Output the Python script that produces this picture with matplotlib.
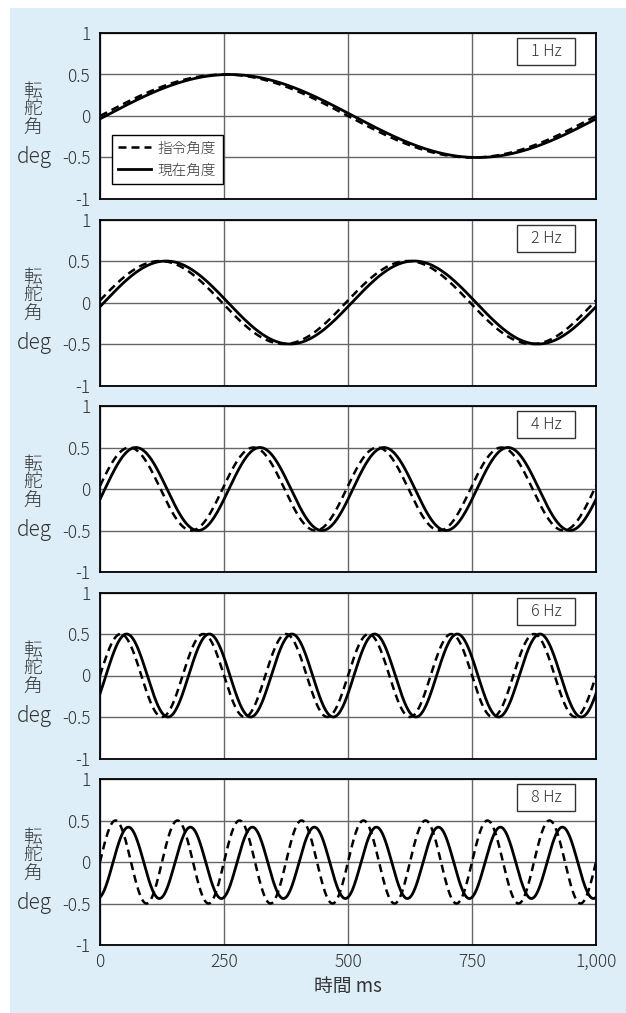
import numpy as np
import matplotlib
matplotlib.use("Agg")
import matplotlib.pyplot as plt
from matplotlib.patches import Rectangle
from matplotlib.transforms import blended_transform_factory

plt.rcParams['font.family'] = ['Noto Sans CJK JP', 'DejaVu Sans']
plt.rcParams['font.weight'] = 'light'

# ---- data ----
freq_hz = [1, 2, 4, 6, 8]
freq_labels = ['1 Hz', '2 Hz', '4 Hz', '6 Hz', '8 Hz']
cmd_amp = [0.5, 0.5, 0.5, 0.5, 0.5]          # 指令角度 amplitude (deg)
cmd_lead_ms = [0, 4, 3, 0, 0]                # command phase advance (ms)
resp_amp = [0.5, 0.5, 0.5, 0.5, 0.43]        # 現在角度 amplitude (deg)
resp_lag_ms = [11, 8, 10, 12, 26]            # response delay (ms)
resp_offset = [0.0, 0.0, 0.0, 0.0, -0.01]    # response offset (deg)
yticks = [-1, -0.5, 0, 0.5, 1]
ytick_labels = ['-1', '-0.5', '0', '0.5', '1']
xticks = [0, 250, 500, 750, 1000]
xtick_labels = ['0', '250', '500', '750', '1,000']
legend_labels = ['指令角度', '現在角度']
ylabel_chars = ['転', '舵', '角']
xlabel = '時間 ms'

W, H = 626, 1013
fig = plt.figure(figsize=(W / 100, H / 100), dpi=100)
fig.patch.set_facecolor('white')
bg = Rectangle((10 / W, 0), (W - 10) / W, (H - 8) / H, transform=fig.transFigure,
               facecolor='#DDEEF8', edgecolor='none', zorder=-10)
fig.patches.append(bg)

left_px, right_px = 100, 596
tops_px = [33, 219.5, 406, 592.5, 779]
height_px = 166

t = np.linspace(0, 1000, 4001)
text_col = '#333333'

for i, f in enumerate(freq_hz):
    top = tops_px[i]
    ax = fig.add_axes([left_px / W, 1 - (top + height_px) / H,
                       (right_px - left_px) / W, height_px / H])
    ax.set_facecolor('white')
    cmd = cmd_amp[i] * np.sin(2 * np.pi * f * (t + cmd_lead_ms[i]) / 1000.0)
    resp = resp_offset[i] + resp_amp[i] * np.sin(2 * np.pi * f * (t - resp_lag_ms[i]) / 1000.0)
    l1, = ax.plot(t, cmd, color='black', lw=1.8, linestyle=(0, (3.2, 2.0)), zorder=3)
    l2, = ax.plot(t, resp, color='black', lw=2.0, zorder=4)
    ax.set_xlim(0, 1000)
    ax.set_ylim(-1, 1)
    ax.set_yticks(yticks)
    ax.set_yticklabels(ytick_labels)
    ax.set_xticks(xticks)
    if i == len(freq_hz) - 1:
        ax.set_xticklabels(xtick_labels)
        ax.set_xlabel(xlabel, fontsize=13.5, color=text_col, labelpad=3)
    else:
        ax.set_xticklabels([])
    ax.tick_params(length=0, labelsize=12.5, labelcolor=text_col, pad=7)
    ax.tick_params(axis='x', pad=6)
    ax.grid(True, color='#666666', lw=1.0, zorder=1)
    for s in ax.spines.values():
        s.set_color('black')
        s.set_linewidth(1.3)
        s.set_zorder(5)
    # frequency box
    bx0, bw = (517 - left_px) / 496, 58 / 496
    by0, bh = (height_px - 32) / height_px, 27 / height_px
    ax.add_patch(Rectangle((bx0, by0), bw, bh, transform=ax.transAxes,
                           facecolor='white', edgecolor='#333333', lw=1.0, zorder=6))
    ax.text(bx0 + bw / 2, by0 + bh / 2, freq_labels[i], transform=ax.transAxes,
            ha='center', va='center', fontsize=11.5, color=text_col, zorder=7)
    # y label
    tr = blended_transform_factory(fig.transFigure, ax.transData)
    for ch, yy in zip(ylabel_chars, [0.29, 0.09, -0.14]):
        ax.text(33 / W, yy, ch, transform=tr, ha='center', va='center',
                fontsize=13.5, color=text_col, clip_on=False)
    ax.text(34 / W, -0.49, 'deg', transform=tr, ha='center', va='center',
            fontsize=15, color=text_col, clip_on=False)
    if i == 0:
        leg = ax.legend([l1, l2], legend_labels, loc='lower left',
                        bbox_to_anchor=(0.024, 0.09), borderaxespad=0,
                        fontsize=10.5, handlelength=2.2, handletextpad=0.5,
                        frameon=True, fancybox=False, framealpha=1,
                        borderpad=0.45, labelspacing=0.55)
        leg.get_frame().set_edgecolor('black')
        leg.get_frame().set_linewidth(1.0)
        leg.set_zorder(8)
        for txt in leg.get_texts():
            txt.set_color(text_col)

fig.savefig('out.png', dpi=100, facecolor=fig.get_facecolor())
